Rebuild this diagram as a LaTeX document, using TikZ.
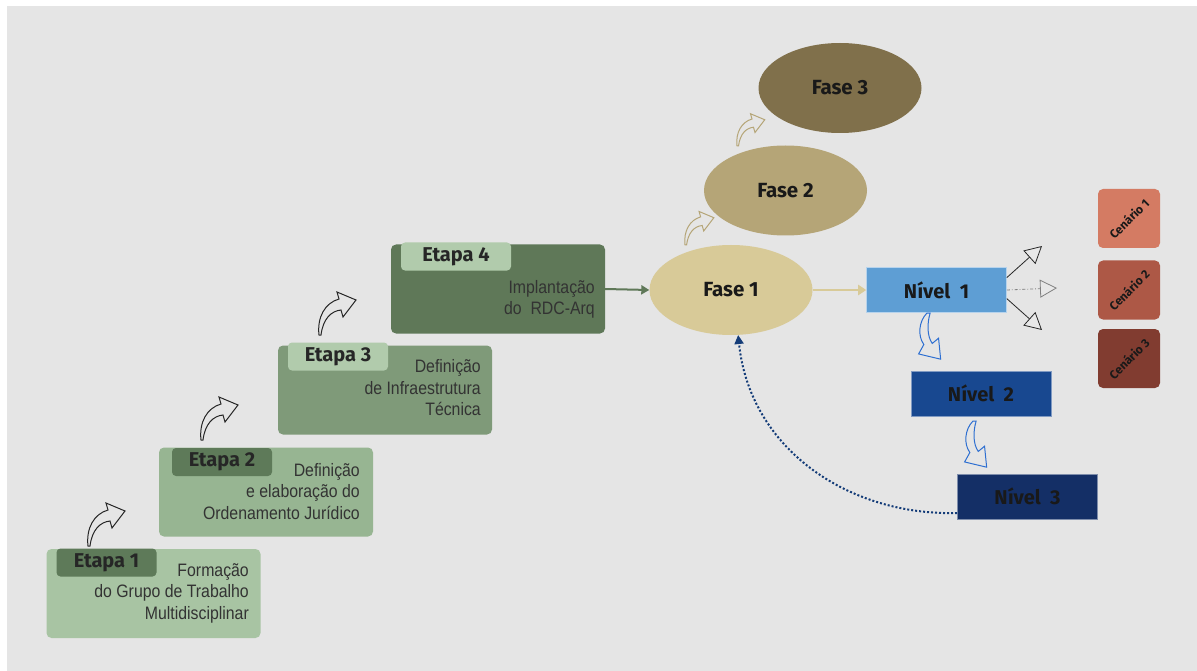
\documentclass[tikz,border=0pt]{standalone}
\usepackage{fontspec}
\usetikzlibrary{arrows.meta,shapes.geometric}
\newfontfamily\headfont{Fira Sans}
\newfontfamily\bodyfont{Liberation Sans}[FakeStretch=0.88]
\definecolor{bggray}{HTML}{E5E5E5}
\definecolor{etapaA}{HTML}{A8C4A3}
\definecolor{etapaB}{HTML}{97B592}
\definecolor{etapaC}{HTML}{7F9A79}
\definecolor{etapaD}{HTML}{5F7858}
\definecolor{tabdark}{HTML}{5E7A59}
\definecolor{tablight}{HTML}{B1CBAC}
\definecolor{faseA}{HTML}{D8CA98}
\definecolor{faseB}{HTML}{B5A577}
\definecolor{faseC}{HTML}{80704B}
\definecolor{nivelA}{HTML}{5E9ED4}
\definecolor{nivelB}{HTML}{184890}
\definecolor{nivelC}{HTML}{142F66}
\definecolor{cenA}{HTML}{D47B63}
\definecolor{cenB}{HTML}{AD5846}
\definecolor{cenC}{HTML}{813C30}
\definecolor{curlblue}{HTML}{2E6FD1}
\definecolor{dotblue}{HTML}{143C78}

\tikzset{
  etapabox/.style={rectangle, rounded corners=5pt, minimum width=214pt, minimum height=89pt, inner sep=0pt},
  tabbox/.style={rectangle, rounded corners=4pt, minimum width=100pt, minimum height=28pt, inner sep=0pt,
    font=\headfont\bfseries\fontsize{20}{22}\selectfont, text=black!85},
  desc/.style={anchor=east, align=right, inner sep=0pt, font=\bodyfont\fontsize{18}{21.5}\selectfont, text=black!80},
  fase/.style={ellipse, minimum width=163pt, minimum height=90pt, inner sep=0pt,
    font=\headfont\bfseries\fontsize{20.5}{22}\selectfont, text=black!90},
  nivel/.style={rectangle, minimum width=140pt, minimum height=45pt, inner sep=0pt, draw=white!55!nivelA, line width=0.6pt,
    font=\headfont\bfseries\fontsize{20}{22}\selectfont, text=black!90},
  cenario/.style={rectangle, rounded corners=5pt, minimum width=62pt, minimum height=59pt, inner sep=0pt},
  cenlabel/.style={rotate=45, inner sep=0pt, font=\headfont\bfseries\fontsize{12}{13}\selectfont, text=black!90},
  uparrow/.pic={
    \path[pic actions] (0,0) .. controls (-2,-18) and (6,-32) .. (20,-36) -- (18,-43) -- (37,-35)
      -- (24,-18) -- (22,-25) .. controls (12,-24) and (4,-16) .. (2,0) -- cycle;
  },
  downarrow/.pic={
    \path[pic actions] (0,0) .. controls (-8,8) and (-9,22) .. (-3,30) -- (-8,39) -- (13,44)
      -- (11,24) -- (5,29) .. controls (0,22) and (0,10) .. (3,0) -- cycle;
  },
  fan/.style={line width=0.8pt, -{Triangle[length=17pt,width=18pt,fill=gray!18]}},
}

\begin{document}
\begin{tikzpicture}[x=1pt,y=-1pt]
  \useasboundingbox (0,0) rectangle (1197,671);
  \fill[white] (0,0) rectangle (1197,671);
  \fill[bggray] (7,6) rectangle (1197,671);

  % etapas
  \node (e1) [etapabox, fill=etapaA] at (153.5,593.5) {};
  \node (e2) [etapabox, fill=etapaB] at (266,492) {};
  \node (e3) [etapabox, fill=etapaC] at (385,390) {};
  \node (e4) [etapabox, fill=etapaD] at (498,289) {};
  \node (t1) [tabbox, fill=tabdark] at (106.5,562.5) {Etapa 1};
  \node (t2) [tabbox, fill=tabdark] at (222,462) {Etapa 2};
  \node (t3) [tabbox, fill=tablight] at (338,356.5) {Etapa 3};
  \node (t4) [tabbox, fill=tablight, minimum width=110pt] at (456,256.5) {Etapa 4};
  \node (d1) [desc] at (249,593) {Formação\\do Grupo de Trabalho\\Multidisciplinar};
  \node (d2) [desc] at (360,491.5) {Definição\\e elaboração do\\Ordenamento Jurídico};
  \node (d3) [desc] at (481,388) {Definição\\de Infraestrutura\\Técnica};
  \node (d4) [desc] at (595,299.5) {Implantação\\do~~RDC-Arq};

  \pic[draw=black!85, fill=bggray, line width=1pt] at (88,546) {uparrow};
  \pic[draw=black!85, fill=bggray, line width=1pt] at (201,440) {uparrow};
  \pic[draw=black!85, fill=bggray, line width=1pt] at (319,335) {uparrow};

  % fases
  \node (f1) [fase, fill=faseA] at (731,290) {Fase 1};
  \node (f2) [fase, fill=faseB] at (785.5,190.5) {Fase 2};
  \node (f3) [fase, fill=faseC] at (840,88) {Fase 3};
  \pic[draw=faseB, fill=bggray, line width=1pt, scale=0.78] at (685,245) {uparrow};
  \pic[draw=faseB, fill=bggray, line width=1pt, scale=0.75] at (737,146) {uparrow};

  \draw[etapaD, line width=2pt, -{Triangle[length=8pt,width=9pt]}] (e4.east) -- (f1.west);

  % niveis
  \node (n1) [nivel, fill=nivelA] at (936.5,290) {Nível~~1};
  \node (n2) [nivel, fill=nivelB, draw=white!45!nivelB] at (981,393.5) {Nível~~2};
  \node (n3) [nivel, fill=nivelC, draw=white!45!nivelC] at (1027.5,496.5) {Nível~~3};
  \draw[faseA, line width=2pt, -{Triangle[length=8pt,width=10pt]}] (f1.east) -- (n1.west);
  \pic[draw=curlblue, fill=bggray, line width=1pt, scale=1.05] at (927,313) {downarrow};
  \pic[draw=curlblue, fill=bggray, line width=1pt, scale=1.05] at (973,421) {downarrow};
  \draw[dotblue, line width=2pt, dotted, -{Triangle[length=9pt,width=9pt]}]
    (957,513) .. controls (850,516) and (750,450) .. (f1.-81);

  % cenarios
  \node (cen1) [cenario, fill=cenA] at (1129,218.5) {};
  \node (cen2) [cenario, fill=cenB] at (1129,290) {};
  \node (cen3) [cenario, fill=cenC] at (1129,358.5) {};
  \node (cl1) [cenlabel] at (cen1) {Cenário 1};
  \node (cl2) [cenlabel] at (cen2) {Cenário 2};
  \node (cl3) [cenlabel] at (cen3) {Cenário 3};
  \coordinate (tip1) at (1042,246);
  \coordinate (tip2) at (1057,288);
  \coordinate (tip3) at (1042,330);
  \draw[fan, black!85] (n1.10) -- (tip1);
  \draw[fan, gray, dash dot] (n1.east) -- (tip2);
  \draw[fan, black!85] (n1.-7) -- (tip3);
\end{tikzpicture}
\end{document}
